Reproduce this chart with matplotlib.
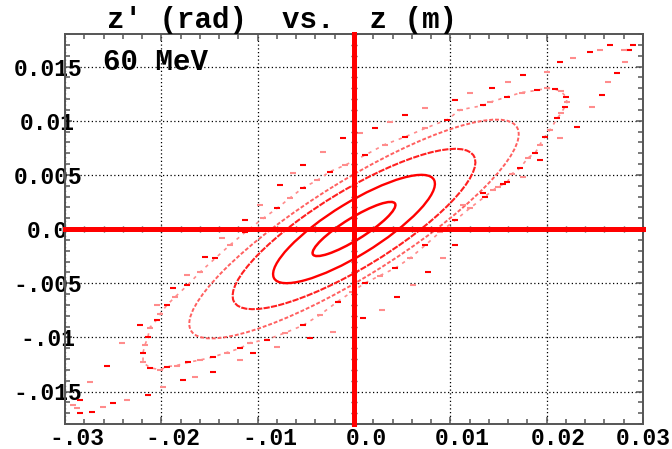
import numpy as np
import matplotlib.pyplot as plt
from matplotlib.patches import Ellipse
from matplotlib.ticker import MultipleLocator
from matplotlib.transforms import ScaledTranslation

# inner rings: max z, max z', and z where z' is at its max
ring_zmax = [0.0043, 0.0084, 0.0126, 0.0171]
ring_zpmax = [0.0025, 0.0050, 0.0074, 0.0101]
ring_z_at_zpmax = [0.0038, 0.0070, 0.0105, 0.0148]

# outer rings, read dash by dash
ring5_z = [0.0209, 0.0215, 0.0220, 0.0221, 0.0219, 0.0215, 0.0211, 0.0203, 0.0198, 0.0193,
           0.0188, 0.0181, 0.0172, 0.0164, 0.0159, 0.0149, 0.0136, 0.0120, 0.0105, 0.0089,
           0.0074, 0.0058, 0.0043, 0.0027, 0.0011, -0.0002, -0.0017, -0.0035, -0.0053, -0.0072,
           -0.0090, -0.0108, -0.0118, -0.0132, -0.0146, -0.0160, -0.0172, -0.0184, -0.0194, -0.0201,
           -0.0212, -0.0219, -0.0219, -0.0217, -0.0214, -0.0212, -0.0205, -0.0201, -0.0194, -0.0186,
           -0.0173, -0.0160, -0.0144, -0.0129, -0.0113, -0.0094, -0.0080, -0.0066, -0.0053, -0.0038,
           -0.0025, -0.0009, 0.0011, 0.0032, 0.0053, 0.0074, 0.0097, 0.0110, 0.0134, 0.0141,
           0.0159, 0.0174, 0.0190, 0.0200]
ring5_zp = [0.0129, 0.0127, 0.0122, 0.0117, 0.0113, 0.0107, 0.0102, 0.0091, 0.0085, 0.0078,
            0.0070, 0.0066, 0.0056, 0.0051, 0.0043, 0.0039, 0.0030, 0.0019, 0.0008, -0.0003,
            -0.0015, -0.0027, -0.0036, -0.0043, -0.0050, -0.0058, -0.0067, -0.0079, -0.0089, -0.0096,
            -0.0102, -0.0105, -0.0110, -0.0114, -0.0118, -0.0121, -0.0123, -0.0126, -0.0127, -0.0130,
            -0.0128, -0.0123, -0.0114, -0.0107, -0.0100, -0.0091, -0.0084, -0.0078, -0.0070, -0.0063,
            -0.0052, -0.0040, -0.0027, -0.0015, -0.0003, 0.0010, 0.0019, 0.0029, 0.0038, 0.0045,
            0.0053, 0.0059, 0.0068, 0.0078, 0.0085, 0.0093, 0.0101, 0.0110, 0.0114, 0.0117,
            0.0122, 0.0126, 0.0128, 0.0130]

ring6_z = [0.0290, 0.0280, 0.0266, 0.0255, 0.0245, 0.0227, 0.0214, 0.0200, 0.0175, 0.0160,
           0.0143, 0.0120, 0.0105, 0.0074, 0.0053, 0.0037, 0.0022, 0.0006, -0.0011, -0.0032,
           -0.0053, -0.0063, -0.0077, -0.0098, -0.0113, -0.0137, -0.0155, -0.0173, -0.0188, -0.0205,
           -0.0222, -0.0241, -0.0256, -0.0274, -0.0284, -0.0288, -0.0284, -0.0292, -0.0272, -0.0261,
           -0.0250, -0.0236, -0.0214, -0.0198, -0.0178, -0.0165, -0.0146, -0.0118, -0.0105, -0.0080,
           -0.0046, -0.0022, 0.0009, 0.0029, 0.0045, 0.0061, 0.0077, 0.0092, 0.0105, 0.0113,
           0.0134, 0.0144, 0.0155, 0.0175, 0.0193, 0.0214, 0.0231, 0.0247, 0.0257, 0.0264,
           0.0273, 0.0281, 0.0285]
ring6_zp = [0.0170, 0.0165, 0.0170, 0.0165, 0.0163, 0.0158, 0.0154, 0.0145, 0.0142, 0.0136,
            0.0130, 0.0126, 0.0119, 0.0112, 0.0105, 0.0099, 0.0093, 0.0089, 0.0084, 0.0071,
            0.0059, 0.0052, 0.0041, 0.0022, 0.0008, -0.0008, -0.0026, -0.0042, -0.0054, -0.0070,
            -0.0089, -0.0105, -0.0126, -0.0141, -0.0158, -0.0165, -0.0170, -0.0162, -0.0169, -0.0164,
            -0.0161, -0.0158, -0.0153, -0.0146, -0.0139, -0.0137, -0.0132, -0.0121, -0.0114, -0.0109,
            -0.0101, -0.0095, -0.0082, -0.0075, -0.0063, -0.0052, -0.0040, -0.0027, -0.0015, 0.0022,
            0.0033, 0.0036, 0.0042, 0.0048, 0.0064, 0.0084, 0.0094, 0.0113, 0.0124, 0.0136,
            0.0144, 0.0154, 0.0165]

xticks = [-0.03, -0.02, -0.01, 0.0, 0.01, 0.02, 0.03]
xlabels = ["-.03", "-.02", "-.01", "0.0", "0.01", "0.02", "0.03"]
yticks = [-0.015, -0.01, -0.005, 0.0, 0.005, 0.01, 0.015]
ylabels = ["-.015", "-.01", "-.005", "0.0", "0.005", "0.01", "0.015"]

mono = ["Liberation Mono", "DejaVu Sans Mono"]
red = "#ff0000"
pink = "#ff8c8c"
spine_col = "#555555"

fig = plt.figure(figsize=(6.72, 4.49), dpi=100)
rect = [65 / 672, 25 / 449, 578 / 672, 390 / 449]
ax = fig.add_axes(rect)
ax.set_xlim(-0.03, 0.03)
ax.set_ylim(-0.018, 0.018)

# inner rings as ellipses built from their second moments
ring_styles = [(red, "-", 1.8), (red, "-", 1.7), ("#ff2020", (0, (3, 0.6)), 1.5),
               ("#ff6060", (0, (2, 1)), 1.4)]
for a, b, c, (col, ls, lw) in zip(ring_zmax, ring_zpmax, ring_z_at_zpmax, ring_styles):
    sigma = np.array([[a * a, c * b], [c * b, b * b]])
    vals, vecs = np.linalg.eigh(sigma)
    ang = np.degrees(np.arctan2(vecs[1, 1], vecs[0, 1]))
    ax.add_patch(Ellipse((0, 0), 2 * np.sqrt(vals[1]), 2 * np.sqrt(vals[0]), angle=ang,
                         fill=False, edgecolor=col, linestyle=ls, linewidth=lw, zorder=3))

# outer rings: a faint dashed trace plus the read dashes
ax.plot(ring5_z + ring5_z[:1], ring5_zp + ring5_zp[:1], ls=(0, (2, 3)), lw=1.2, color=pink, zorder=2)
for zs, zps in [(ring5_z, ring5_zp), (ring6_z, ring6_zp)]:
    ax.plot(zs[::2], zps[::2], ls="none", marker="_", ms=5, mew=1.5, color=red, zorder=3)
    ax.plot(zs[1::2], zps[1::2], ls="none", marker="_", ms=5, mew=1.5, color=pink, zorder=3)

ax.set_xticks(xticks)
ax.set_xticklabels(xlabels)
ax.set_yticks(yticks)
ax.set_yticklabels(ylabels)
ax.xaxis.set_minor_locator(MultipleLocator(0.002))
ax.yaxis.set_minor_locator(MultipleLocator(0.001))
ax.grid(True, which="major", color="black", linestyle=(0, (1, 2)), linewidth=0.9)
ax.tick_params(which="both", direction="in", top=True, right=True, color=spine_col, width=1.1)
ax.tick_params(which="major", length=5)
ax.tick_params(which="minor", length=3.5)
ax.tick_params(axis="x", pad=2, labelsize=16.5)
ax.tick_params(axis="y", pad=12.5, labelsize=16.5)
for sp in ax.spines.values():
    sp.set_color(spine_col)
    sp.set_linewidth(1.4)

for lab in ax.get_xticklabels() + ax.get_yticklabels():
    lab.set_family(mono)
    lab.set_fontweight("bold")
for lab in ax.get_yticklabels():
    lab.set_horizontalalignment("center")
xl = ax.get_xticklabels()
for lab in xl[:-1]:
    lab.set_transform(lab.get_transform() + ScaledTranslation(12 / 100, 0, fig.dpi_scale_trans))

# red zero axes with their own ticks, drawn over the data
ax0 = fig.add_axes(rect, sharex=ax, sharey=ax)
ax0.patch.set_visible(False)
ax0.spines["top"].set_visible(False)
ax0.spines["right"].set_visible(False)
ax0.spines["left"].set_position(("data", 0))
ax0.spines["bottom"].set_position(("data", 0))
for side in ["left", "bottom"]:
    ax0.spines[side].set_color(red)
    ax0.spines[side].set_linewidth(3.6)
ax0.tick_params(which="both", direction="inout", color="#444444", width=1, length=4.5,
                labelleft=False, labelbottom=False)

fig.text(282 / 672, 1 - 28 / 449, "z\u2032 (rad)  vs.  z (m)", ha="center", va="baseline",
         fontsize=21, fontweight="bold", family=mono)
ax.text(0.066, 0.908, "60 MeV", transform=ax.transAxes, va="baseline",
        fontsize=21, fontweight="bold", family=mono)

plt.savefig("out.png", dpi=100)
